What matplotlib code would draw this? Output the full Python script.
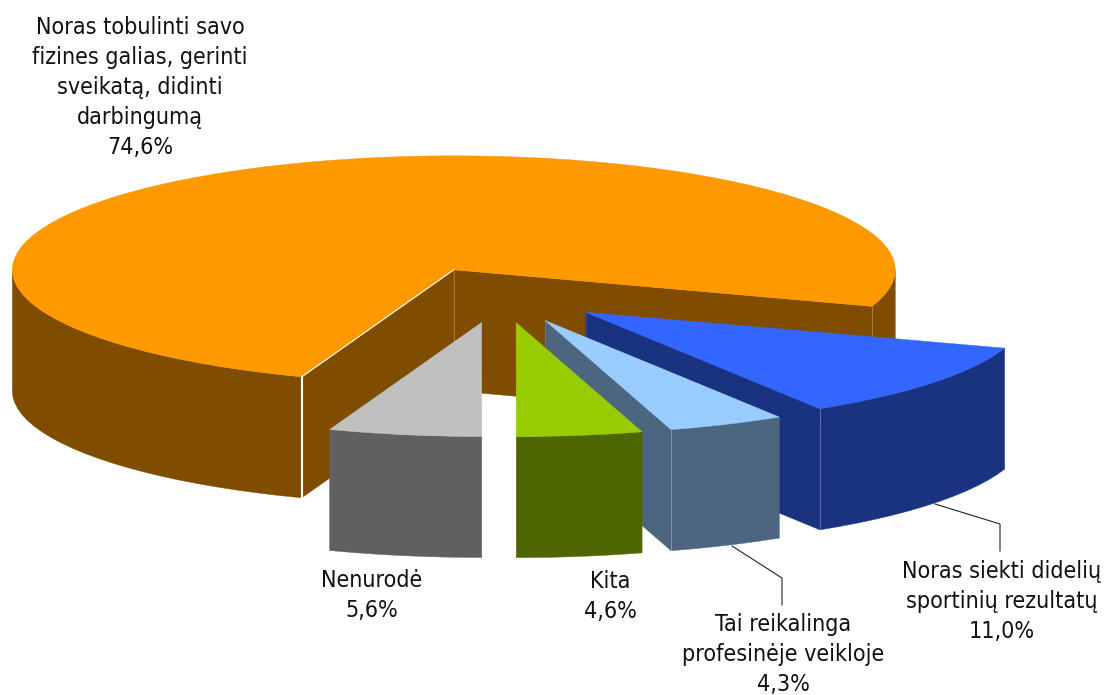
import numpy as np
import matplotlib
matplotlib.use("Agg")
import matplotlib.pyplot as plt
from matplotlib.patches import Polygon

# slices in drawing order round the pie, counter-clockwise
labels = [
    ["Noras tobulinti savo", "fizines galias, gerinti", "sveikatą, didinti", "darbingumą"],
    ["Nenurodė"],
    ["Kita"],
    ["Tai reikalinga", "profesinėje veikloje"],
    ["Noras siekti didelių", "sportinių rezultatų"],
]
shares = [74.6, 5.6, 4.6, 4.3, 11.0]
value_text = ["74,6%", "5,6%", "4,6%", "4,3%", "11,0%"]

top_colors = ["#FF9900", "#C0C0C0", "#99CC00", "#99CCFF", "#3366FF"]
side_colors = ["#804D00", "#606060", "#4D6600", "#4D6680", "#1A3380"]

# pie geometry in pixels
cx, cy = 500.5, 295.0
rx, ry = 441.5, 114.0
depth = 121
explode = 0.245
start = -18.7

# label anchor: centre x and baseline of the first line
label_pos = [(140, 34), (372, 587), (610, 588), (783, 631), (1002, 578)]
line_step = 30
leaders = {
    3: ([732, 782, 782], [546, 578, 605]),
    4: ([935, 1000, 1000], [504, 524, 551]),
}

plt.rcParams["font.family"] = "DejaVu Sans"

fig = plt.figure(figsize=(11.04, 6.95), dpi=100)
ax = fig.add_axes([0, 0, 1, 1])
ax.set_xlim(0, 1104)
ax.set_ylim(695, 0)
ax.axis("off")


def rim(t0, t1, x0, y0):
    n = max(2, int(abs(t1 - t0) / 3) + 1)
    t = np.radians(np.linspace(t0, t1, n))
    return x0 + rx * np.cos(t), y0 - ry * np.sin(t)


def wall(xs, ys, color, z):
    px = np.concatenate([xs, xs[::-1]])
    py = np.concatenate([ys, ys[::-1] + depth])
    ax.add_patch(Polygon(np.column_stack([px, py]), closed=True, fc=color, ec=color, lw=0.3, zorder=z))


def draw_slice(i, t0, t1):
    mid = np.radians((t0 + t1) / 2)
    x0 = cx + explode * rx * np.cos(mid)
    y0 = cy - explode * ry * np.sin(mid)
    z = {0: 1, 4: 2, 3: 3, 2: 4, 1: 5}[i] * 10
    side = side_colors[i]

    # cut faces, only those turned towards the viewer
    faces = []
    if np.cos(np.radians(t0)) > 0.02:
        faces.append(t0)
    if np.cos(np.radians(t1)) < -0.02:
        faces.append(t1)
    for t in faces:
        ex, ey = rim(t, t, x0, y0)
        wall(np.array([x0, ex[0]]), np.array([y0, ey[0]]), side, z)
        ax.plot([x0, x0], [y0, y0 + depth], color="white", alpha=0.12, lw=0.7, zorder=z + 1)

    # outer wall on the front half of the rim
    for lo, hi in ((-180, 0), (180, 360)):
        s, e = max(t0, lo), min(t1, hi)
        if s < e:
            xs, ys = rim(s, e, x0, y0)
            wall(xs, ys, side, z)

    # top face
    xs, ys = rim(t0, t1, x0, y0)
    pts = np.column_stack([np.r_[x0, xs], np.r_[y0, ys]])
    ax.add_patch(Polygon(pts, closed=True, fc=top_colors[i], ec=top_colors[i], lw=0.3, zorder=z + 2))

    # lighter seam where a cut face meets the outer wall
    for t in faces:
        ex, ey = rim(t, t, x0, y0)
        if i == 0 and t == t1:
            ax.plot([ex[0], ex[0]], [ey[0], ey[0] + depth], color="white", lw=1.5, zorder=z + 3)
            ax.plot([x0, ex[0]], [y0, ey[0]], color="white", lw=0.8, zorder=z + 3)
        else:
            ax.plot([ex[0], ex[0]], [ey[0], ey[0] + depth], color="white", alpha=0.3, lw=0.7, zorder=z + 3)


angles = np.cumsum([0] + shares) * 3.6 + start
for i in range(len(shares)):
    draw_slice(i, angles[i], angles[i + 1])

for xs, ys in leaders.values():
    ax.plot(xs, ys, color="#222222", lw=0.8, zorder=5)

for i, lines in enumerate(labels):
    x, y = label_pos[i]
    for k, line in enumerate(lines + [value_text[i]]):
        ax.text(x, y + k * line_step, line, ha="center", va="baseline",
                fontsize=16.7, stretch="condensed", color="#111111", zorder=100)

fig.savefig("out.png", dpi=100)
